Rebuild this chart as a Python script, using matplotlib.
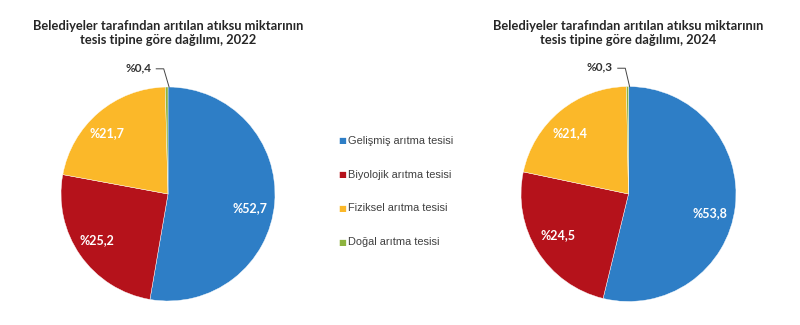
import matplotlib.pyplot as plt

# data
categories = ["Gelişmiş arıtma tesisi", "Biyolojik arıtma tesisi",
              "Fiziksel arıtma tesisi", "Doğal arıtma tesisi"]
share_2022 = [52.7, 25.2, 21.7, 0.4]
share_2024 = [53.8, 24.5, 21.4, 0.3]
labels_2022 = ["%52,7", "%25,2", "%21,7", "%0,4"]
labels_2024 = ["%53,8", "%24,5", "%21,4", "%0,3"]
titles = ["Belediyeler tarafından arıtılan atıksu miktarının\ntesis tipine göre dağılımı, 2022",
          "Belediyeler tarafından arıtılan atıksu miktarının\ntesis tipine göre dağılımı, 2024"]

colors = ["#2e7ec6", "#b5121b", "#fbb829", "#8db33e"]

W, H = 800, 325
fig = plt.figure(figsize=(8, 3.25), dpi=100)

def pie_axes(cx, cy, r):
    return fig.add_axes([(cx - r) / W, (H - cy - r) / H, 2 * r / W, 2 * r / H])

# label positions (in pie radius units)
pos_2022 = [(0.77, -0.13), (-0.66, -0.43), (-0.57, 0.57), (-0.28, 1.18)]
pos_2024 = [(0.76, -0.18), (-0.66, -0.38), (-0.54, 0.57), (-0.27, 1.18)]

setups = [((168, 194, 107), share_2022, labels_2022, pos_2022, titles[0]),
          ((628.5, 194, 107.5), share_2024, labels_2024, pos_2024, titles[1])]

for (cx, cy, r), vals, labs, pos, title in setups:
    ax = pie_axes(cx, cy, r)
    ax.pie(vals, colors=colors, startangle=90, counterclock=False,
           wedgeprops=dict(linewidth=0.3, edgecolor="white"))
    ax.set_xlim(-1, 1)
    ax.set_ylim(-1, 1)
    ax.set_aspect("equal")
    ax.axis("off")
    for i, (lab, (x, y)) in enumerate(zip(labs, pos)):
        if i < 3:
            ax.text(x, y, lab, ha="center", va="center", color="white",
                    fontsize=9, fontweight="bold", family="Lato")
        else:
            ax.text(x, y, lab, ha="center", va="center", color="#333333",
                    fontsize=8.5, fontweight="bold", family="Lato")
            ax.plot([x + 0.17, x + 0.24, 0.01], [y - 0.01, y - 0.01, 1.0],
                    color="#444444", lw=0.7, clip_on=False)
    fig.text(cx / W, 1 - 33 / H, title, ha="center", va="center",
             fontsize=9.3, fontweight="bold", family="Lato",
             color="#262626", linespacing=1.15)

# legend
for i, (cat, c) in enumerate(zip(categories, colors)):
    y = 1 - (141 + i * 33.7) / H
    fig.text(342 / W, y, "■", color=c, fontsize=6, ha="center", va="center",
             family="DejaVu Sans")
    fig.text(348 / W, y, cat, color="#404040", fontsize=7.9, ha="left",
             va="center", family="Liberation Sans")

fig.savefig("out.png", dpi=100)
